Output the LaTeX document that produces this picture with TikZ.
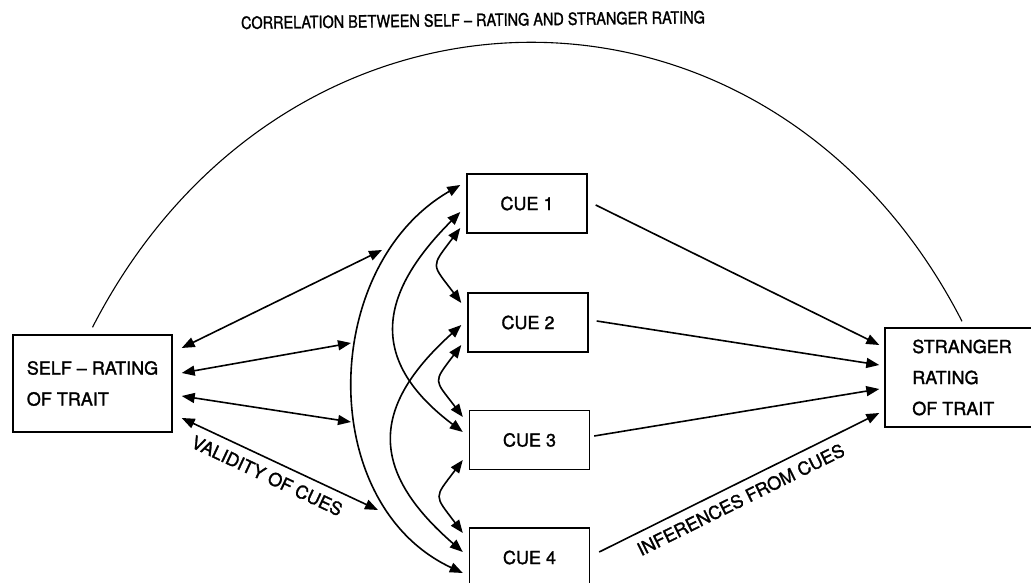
\documentclass[tikz,border=0pt]{standalone}
\usepackage{fontspec}
\setmainfont{TeX Gyre Heros}[FakeBold=1.5]
\usetikzlibrary{arrows.meta}

\tikzset{
  ratingbox/.style={draw, line width=1.4pt, minimum height=97pt,
    font=\fontsize{18}{31}\selectfont, align=left},
  cuebox/.style={draw, line width=1.4pt, minimum width=120pt,
    minimum height=59pt, font=\fontsize{18}{22}\selectfont},
  arr/.style={line width=1.6pt, -{Triangle[length=13pt,width=10pt]}},
  dblarr/.style={line width=1.6pt,
    {Triangle[length=13pt,width=10pt]}-{Triangle[length=13pt,width=10pt]}},
  lbl/.style={sloped, below=5pt, font=\fontsize{18}{22}\selectfont}
}

\begin{document}
\begin{tikzpicture}[x=1pt, y=1pt]
          \useasboundingbox (0,0) rectangle (1031,583);

          % Title over the correlation arc
          \node[rotate=0.7, font=\fontsize{17}{20}\selectfont] (title) at (473,563)
              {\scalebox{0.85}[1]{CORRELATION BETWEEN SELF – RATING AND STRANGER RATING}};

          % Ratings
          \node[ratingbox, minimum width=159pt] (self) at (92.5,199.5) {SELF – RATING\\OF TRAIT};
          \node[ratingbox, minimum width=154pt, minimum height=99pt] (stranger) at (962,205.5)
              {STRANGER\\RATING\\OF TRAIT};

          % Cues
          \node[cuebox] (cue1) at (527,379.5) {CUE 1};
          \node[cuebox] (cue2) at (528,260.5) {CUE 2};
          \node[cuebox] (cue3) at (529.5,143) {CUE 3};
          \node[cuebox] (cue4) at (529.5,25.5) {CUE 4};

          % Correlation arc
          \draw[line width=1.1pt] ([yshift=7pt]self.north)
              .. controls +(193,376) and +(-193,376) .. ([yshift=6pt]stranger.north);

          % Validity of cues
          \coordinate (v1) at (382,333);
          \coordinate (v2) at (351,240);
          \coordinate (v3) at (351,161);
          \coordinate (v4) at (378,73);
          \draw[dblarr] ([shift={(9,35.5)}]self.east) -- (v1);
          \draw[dblarr] ([shift={(9,10.5)}]self.east) -- (v2);
          \draw[dblarr] ([shift={(9,-12.5)}]self.east) -- (v3);
          \draw[dblarr] ([shift={(9,-34.5)}]self.east) -- (v4)
              node[lbl, pos=0.47] {VALIDITY OF CUES};

          % Cue intercorrelations
          \draw[dblarr] ([shift={(-6,18.5)}]cue1.west)
              to[out=210, in=155, looseness=1.07] ([shift={(-6,-15.5)}]cue4.west);
          \draw[dblarr] ([shift={(-6,-8.5)}]cue1.west)
              to[out=225, in=143, looseness=1.37] ([shift={(-6,8)}]cue3.west);
          \draw[dblarr] ([shift={(-6,-2.5)}]cue2.west)
              to[out=222, in=139, looseness=1.39] ([shift={(-6,5.5)}]cue4.west);
          \draw[dblarr] ([shift={(-6,-24.5)}]cue1.west)
              to[out=233, in=127, looseness=1.7] ([shift={(-6,19.5)}]cue2.west);
          \draw[dblarr] ([shift={(-6,-22.5)}]cue2.west)
              to[out=233, in=127, looseness=1.7] ([shift={(-6,23)}]cue3.west);
          \draw[dblarr] ([shift={(-6,-20)}]cue3.west)
              to[out=233, in=127, looseness=1.7] ([shift={(-6,24.5)}]cue4.west);

          % Inferences from cues
          \draw[arr] ([shift={(8,-1.5)}]cue1.east) -- ([shift={(-5,32.5)}]stranger.west);
          \draw[arr] ([shift={(8,1.5)}]cue2.east) -- ([shift={(-5,12.5)}]stranger.west);
          \draw[arr] ([shift={(4,4)}]cue3.east) -- ([shift={(-5,-11.5)}]stranger.west);
          \draw[arr] ([shift={(9,5.5)}]cue4.east) -- ([shift={(-5,-35.5)}]stranger.west)
              node[lbl, pos=0.48] {INFERENCES FROM CUES};

        \end{tikzpicture}
\end{document}
